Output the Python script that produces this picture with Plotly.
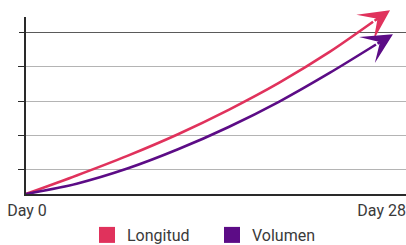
import plotly.graph_objects as go

# Data; curve ends where the arrowhead starts
days = [0, 4, 8, 12, 16, 20, 24]
longitud = [0.3, 0.84, 1.41, 2.04, 2.75, 3.54, 4.44]
volumen = [0.3, 0.6, 1.04, 1.6, 2.25, 2.99, 3.83]
base_day_longitud, base_val_longitud = 27.4, 5.31
base_day_volumen, base_val_volumen = 27.63, 4.65
tip_day_longitud, tip_val_longitud = 28.74, 5.65
tip_day_volumen, tip_val_volumen = 28.97, 4.95
x_tick_vals = [0, 28]
x_tick_text = ["Day 0", "Day 28"]
y_grid_vals = [1, 2, 3, 4]
y_top_grid = [5]

RED = "#E0325C"
PURPLE = "#5C0C86"
FONT = "Roboto, sans-serif"
TXT = "#3a3a3a"

W, H = 406, 245

fig = go.Figure()
series = [
    ("Longitud", longitud, base_day_longitud, base_val_longitud, tip_day_longitud, tip_val_longitud, RED),
    ("Volumen", volumen, base_day_volumen, base_val_volumen, tip_day_volumen, tip_val_volumen, PURPLE),
]
for name, vals, bx, by, tx, ty, col in series:
    fig.add_trace(go.Scatter(x=days + [bx], y=vals + [by], mode="lines",
                             line=dict(color=col, width=2.6, shape="spline", smoothing=0.8),
                             showlegend=False, cliponaxis=False, hoverinfo="skip"))
for name, vals, bx, by, tx, ty, col in series:
    fig.add_trace(go.Scatter(x=[None], y=[None], mode="markers", name=name,
                             marker=dict(symbol="square", size=17, color=col),
                             yaxis="y2"))
    fig.add_annotation(x=tx, y=ty, ax=bx, ay=by, xref="x", yref="y",
                       axref="x", ayref="y", text="", showarrow=True,
                       arrowhead=3, arrowsize=1.95, arrowwidth=2.6,
                       arrowcolor=col, standoff=0, startstandoff=0)

fig.update_layout(
    width=W, height=H,
    margin=dict(l=26, r=0, t=17, b=51, autoexpand=False),
    paper_bgcolor="white", plot_bgcolor="white",
    font=dict(family=FONT, color=TXT, size=16),
    xaxis=dict(range=[0, 30], tickvals=x_tick_vals, ticktext=x_tick_text,
               showgrid=False, zeroline=False, showline=True,
               linecolor="#2a2a2a", linewidth=1.5, ticks="",
               tickfont=dict(size=16, color=TXT), automargin=False,
               ticklabeloverflow="allow", ticklabelshift=1, ticklabelstandoff=1),
    yaxis=dict(range=[0.3, 5.45], tickvals=y_grid_vals, showticklabels=False,
               showgrid=True, gridcolor="#b4b4b4", gridwidth=1.3,
               zeroline=False, showline=True, linecolor="#2a2a2a", linewidth=1.5,
               ticks="outside", ticklen=6, tickcolor="#2a2a2a", tickwidth=1),
    yaxis2=dict(range=[0.3, 5.45], tickvals=y_top_grid, showticklabels=False,
                overlaying="y", side="left", showgrid=True, gridcolor="#5a5a5a",
                gridwidth=1.3, zeroline=False, showline=False,
                ticks="outside", ticklen=6, tickcolor="#2a2a2a", tickwidth=1),
    legend=dict(orientation="h", x=87 / W, xanchor="left", xref="container",
                y=10 / H, yanchor="middle", yref="container",
                font=dict(size=16, color=TXT), itemwidth=30,
                entrywidth=80, entrywidthmode="pixels",
                bgcolor="rgba(0,0,0,0)"),
    showlegend=True,
)
# remove the default 8px page margin so the figure fills the window exactly
fig.write_html("out.html", config={"displayModeBar": False},
               post_script="document.body.style.margin='0';")
